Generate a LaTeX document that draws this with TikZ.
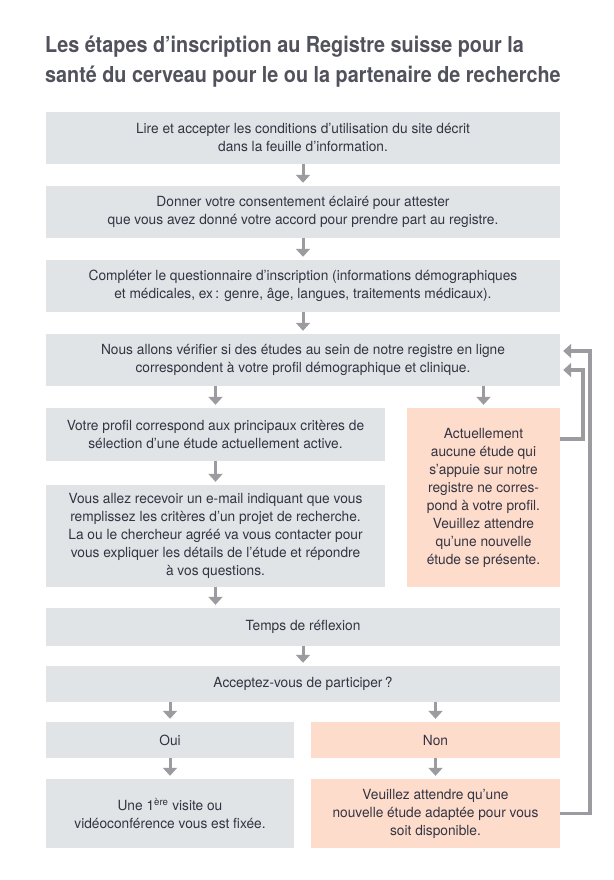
\documentclass[tikz,border=0pt]{standalone}
\usepackage{fontspec}
\setmainfont{TeX Gyre Heros}[FakeStretch=0.98]
\newfontfamily\titlefont{TeX Gyre Heros}[FakeStretch=0.9]
\usetikzlibrary{arrows.meta,positioning,calc}
\definecolor{boxgray}{RGB}{224,228,231}
\definecolor{boxorange}{RGB}{253,220,203}
\definecolor{arrgray}{RGB}{155,155,160}
\definecolor{txt}{RGB}{52,52,66}
\definecolor{ttl}{RGB}{82,82,92}
\tikzset{
  gbox/.style={fill=boxgray, draw=none, inner sep=0pt, align=center, text=txt,
    font=\fontsize{14}{18}\selectfont},
  obox/.style={gbox, fill=boxorange},
  arr/.style={draw=arrgray, line width=3pt, -{Triangle[width=14pt,length=8pt]}, shorten >=3pt},
  fb/.style={draw=arrgray, line width=3.5pt, -{Triangle[width=14pt,length=8pt]}, shorten >=3pt},
  ttlnode/.style={anchor=base west, inner sep=0pt, text=ttl, font=\titlefont\bfseries\fontsize{22}{30}\selectfont}
}
\begin{document}
\begin{tikzpicture}[x=1pt,y=-1pt]
\useasboundingbox (0,0) rectangle (613,880);
\node[ttlnode] (t1) at (45,53) {Les étapes d’inscription au Registre suisse pour la};
\node[ttlnode] (t2) at (45,83) {santé du cerveau pour le ou la partenaire de recherche};

\node[gbox, minimum width=514pt, minimum height=52pt] (b1) at (303,138)
  {Lire et accepter les conditions d’utilisation du site décrit\\dans la feuille d’information.};
\node[gbox, minimum width=514pt, minimum height=52pt] (b2) at (303,212)
  {Donner votre consentement éclairé pour attester\\que vous avez donné votre accord pour prendre part au registre.};
\node[gbox, minimum width=514pt, minimum height=52pt] (b3) at (303,286)
  {Compléter le questionnaire d’inscription (informations démographiques\\et médicales, ex\,: genre, âge, langues, traitements médicaux).};
\node[gbox, minimum width=514pt, minimum height=52pt] (b4) at (303,360)
  {Nous allons vérifier si des études au sein de notre registre en ligne\\correspondent à votre profil démographique et clinique.};
\node[gbox, minimum width=339pt, minimum height=53pt] (b5) at (215.5,434.5)
  {Votre profil correspond aux principaux critères de\\sélection d’une étude actuellement active.};
\node[gbox, minimum width=339pt, minimum height=102pt] (b6) at (215.5,536)
  {Vous allez recevoir un e-mail indiquant que vous\\remplissez les critères d’un projet de recherche.\\La ou le chercheur agréé va vous contacter pour\\vous expliquer les détails de l’étude et répondre\\à vos questions.};
\node[obox, minimum width=153pt, minimum height=179pt] (o1) at (483.5,497.5)
  {Actuellement\\aucune étude qui\\s’appuie sur notre\\registre ne corres-\\pond à votre profil.\\Veuillez attendre\\qu’une nouvelle\\étude se présente.};
\node[gbox, minimum width=514pt, minimum height=38pt] (b7) at (303,627) {Temps de réflexion};
\node[gbox, minimum width=514pt, minimum height=36pt] (b8) at (303,684) {Acceptez-vous de participer\,?};
\node[gbox, minimum width=248pt, minimum height=36pt] (oui) at (170,740) {Oui};
\node[obox, minimum width=249pt, minimum height=36pt] (non) at (435.5,740) {Non};
\node[gbox, minimum width=248pt, minimum height=69pt] (une) at (170,813.5)
  {Une 1\textsuperscript{ère} visite ou\\vidéoconférence vous est fixée.};
\node[obox, minimum width=249pt, minimum height=69pt] (veu) at (435.5,813.5)
  {Veuillez attendre qu’une\\nouvelle étude adaptée pour vous\\soit disponible.};

\draw[arr] (b1) -- (b2);
\draw[arr] (b2) -- (b3);
\draw[arr] (b3) -- (b4);
\draw[arr] (b4.south -| b5.north) -- (b5.north);
\draw[arr] (b4.south -| o1.north) -- (o1.north);
\draw[arr] (b5) -- (b6);
\draw[arr] (b6.south) -- (b7.north -| b6.south);
\draw[arr] (b7) -- (b8);
\draw[arr] (b8.south -| oui.north) -- (oui.north);
\draw[arr] (b8.south -| non.north) -- (non.north);
\draw[arr] (oui) -- (une);
\draw[arr] (non) -- (veu);

\coordinate (fa) at ([yshift=-31pt]o1.north east);
\coordinate (fb) at ([yshift=-10pt]b4.east);
\coordinate (ga) at (veu.east);
\coordinate (gb) at ([yshift=9pt]b4.east);
\draw[fb] (fa) -- ++(23,0) |- (fb);
\draw[fb] (ga) -- ++(30,0) |- (gb);
\end{tikzpicture}
\end{document}
